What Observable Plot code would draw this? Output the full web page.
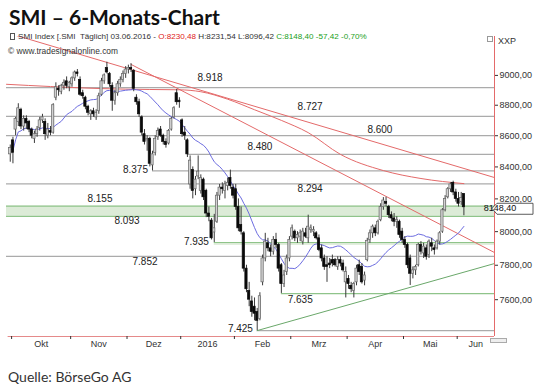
<!DOCTYPE html>
<html><head><meta charset="utf-8">
<script src="https://cdn.jsdelivr.net/npm/d3@7"></script>
<script src="https://cdn.jsdelivr.net/npm/@observablehq/plot@0.6"></script>
<style>
body{margin:0;background:#fff;}
#wrap{position:relative;width:540px;height:390px;overflow:hidden;font-family:"Liberation Sans",Arial,sans-serif;}
#wrap svg{position:absolute;left:0;top:0;}
.t{position:absolute;white-space:nowrap;line-height:1;}
</style></head><body>
<div id="wrap"></div>
<script>
// ---------------- data ----------------
const firstDay = -1; // trading-day number of the first candle (0 = 1 Oct 2015)
const open  = [8480,8570,8640,8690,8770,8660,8710,8690,8640,8580,8610,8650,8700,8690,8600,8630,8620,8850,8910,8890,8930,8960,8920,8940,8980,9020,8970,8880,8850,8790,8740,8760,8720,8760,8870,8960,9050,9010,8930,8830,8880,8940,8970,9010,9040,9050,9030,8850,8820,8720,8610,8570,8580,8410,8490,8590,8640,8600,8560,8550,8640,8720,8880,8830,8700,8620,8570,8290,8380,8260,8340,8250,8320,8250,8110,8067,7995,8060,8220,8270,8250,8280,8330,8270,8260,8150,8040,7990,7780,7650,7590,7560,7530,7490,7700,7840,7930,7900,7880,7950,7920,7800,7690,7760,7840,7970,8000,7960,7970,7940,7990,7960,8010,8000,7990,7960,7900,7840,7800,7810,7830,7830,7790,7830,7810,7700,7720,7680,7650,7700,7800,7790,7710,7830,7950,7990,8020,7990,8070,8150,8180,8150,8100,8080,8060,8060,8000,7950,7920,7840,7750,7770,7800,7920,7870,7900,7860,7930,7900,7900,7940,8000,8130,8210,8260,8300,8240,8200,8180,8230.48];
const high  = [8540,8590,8720,8810,8780,8730,8730,8700,8650,8630,8660,8720,8740,8710,8680,8660,8810,8950,8930,8940,8970,8990,8960,8990,9030,9040,8990,8900,8860,8800,8770,8780,8770,8880,8980,9010,9090,9020,8950,8900,8960,8990,9030,9060,9070,9080,9040,8870,8840,8730,8640,8600,8590,8500,8600,8650,8660,8610,8580,8640,8720,8790,8905,8850,8710,8660,8580,8470,8400,8340,8470,8350,8330,8260,8150,8080,8105,8240,8290,8300,8310,8330,8380,8290,8290,8200,8150,8000,7800,7700,7620,7610,7550,7640,7860,7990,7960,7920,7970,7990,7930,7810,7770,7860,7970,8040,8010,8000,8010,8020,8020,8100,8040,8030,8000,7980,7920,7860,7850,7840,7860,7840,7850,7850,7830,7790,7740,7700,7700,7800,7830,7810,7760,7960,8010,8040,8040,8070,8170,8208,8210,8160,8120,8110,8090,8070,8020,7970,7930,7860,7790,7800,7930,7940,7930,7920,7950,7960,7920,7950,8000,8140,8220,8270,8300,8310,8260,8240,8240,8231.54];
const low   = [8430,8420,8600,8660,8640,8630,8640,8620,8580,8550,8590,8630,8680,8570,8580,8600,8610,8830,8860,8870,8900,8910,8890,8920,8960,8990,8860,8840,8770,8730,8700,8720,8700,8740,8860,8940,9010,8920,8760,8800,8860,8920,8950,8980,9010,9020,8890,8800,8720,8600,8540,8500,8400,8375,8470,8570,8590,8540,8520,8540,8630,8710,8800,8780,8590,8570,8460,8260,8200,8220,8320,8230,8190,8085,8060,7950,7935,8050,8190,8230,8200,8250,8260,8200,8130,8000,7980,7760,7640,7560,7500,7480,7425,7480,7680,7820,7880,7850,7860,7900,7760,7636,7670,7740,7820,7950,7940,7930,7940,7920,7960,7930,7990,7970,7950,7880,7820,7770,7700,7780,7790,7790,7770,7790,7760,7610,7660,7640,7610,7680,7740,7690,7680,7820,7930,7960,7970,7980,8060,8130,8150,8080,8060,8030,8020,7960,7930,7900,7780,7682,7720,7740,7790,7860,7840,7830,7840,7880,7860,7890,7920,7990,8120,8200,8240,8220,8180,8150,8160,8096.42];
const close = [8520,8490,8710,8780,8660,8710,8680,8640,8600,8610,8640,8700,8720,8610,8640,8620,8800,8920,8900,8930,8950,8930,8950,8980,9020,9010,8870,8860,8790,8750,8760,8740,8750,8860,8960,9000,9020,8940,8830,8880,8940,8970,9010,9040,9050,9040,8910,8820,8740,8620,8560,8580,8420,8480,8580,8630,8600,8560,8540,8630,8710,8780,8820,8820,8610,8600,8480,8440,8250,8320,8370,8330,8210,8110,8090,7960,8020,8220,8270,8260,8290,8300,8280,8220,8150,8020,8000,7780,7660,7600,7530,7520,7480,7620,7840,7940,7900,7880,7950,7920,7780,7690,7740,7840,7950,8020,7960,7980,7990,8000,7970,8030,8020,8010,7960,7890,7840,7790,7790,7800,7810,7800,7830,7810,7770,7760,7690,7660,7690,7780,7760,7700,7740,7945,7990,8030,7990,8060,8150,8190,8170,8100,8080,8060,8070,7980,7950,7920,7800,7750,7770,7790,7920,7880,7910,7850,7940,7910,7890,7940,7990,8130,8200,8260,8290,8240,8200,8170,8205.82,8148.40];

// month axis: trading-day number of each month's first session, its session count, label
const monthStart  = [0, 22, 43, 63, 83, 104, 125, 146, 166];
const monthLength = [22, 21, 20, 20, 21, 21, 21, 20, 22];
const monthLabel  = ["Okt","Nov","Dez","2016","Feb","Mrz","Apr","Mai","Jun"];

// price axis ticks
const priceTicks = [7600, 7800, 8000, 8200, 8400, 8600, 8800, 9000];

// horizontal support / resistance levels: value, first trading day, kind
const levelValue = [8918, 8727, 8600, 8480, 8375, 8294, 8155, 8093, 7935, 7852, 7635, 7425];
const levelFrom  = [null, null, null, 65, 52, null, null, null, 75, null, 100, 91];
const levelKind  = ["gray","gray","gray","gray","gray","gray","green","green","green","gray","green","gray"];
const levelLabel = ["8.918","8.727","8.600","8.480","8.375","8.294","8.155","8.093","7.935","7.852","7.635","7.425"];

// shaded zones (value ranges)
const zoneLow  = [8093, 7918];
const zoneHigh = [8155, 7935];
const zoneFrom = [null, 75];

// straight trend lines: [day, value] pairs
const trendRedA  = [[-1.6, 9291], [179.4, 8333]];
const trendRedC  = [[44, 9075], [179.4, 7875]];
const trendGreen = [[91, 7425], [179.4, 7810]];

// 200-day average (red curve)
const ma200Day = [-2.4, 14, 33, 51, 62, 70, 80, 90, 100, 110, 122, 138, 152, 168];
const ma200Val = [8940, 8925, 8911, 8905, 8903, 8890, 8840, 8770, 8700, 8620, 8480, 8377, 8327, 8295];

// ---------------- build ----------------
const X0 = -2.4, X1 = 179.4, YMIN = 7392, YMAX = 9268;
const candles = close.map((c, i) => ({day: firstDay + i, open: open[i], high: high[i], low: low[i], close: c, up: c >= open[i]}));
const levels = levelValue.map((v, i) => ({v, from: levelFrom[i] ?? X0, kind: levelKind[i], label: levelLabel[i]}));
const zones = zoneLow.map((lo, i) => ({lo, hi: zoneHigh[i], from: zoneFrom[i] ?? X0}));
const seg = (pts, id) => pts.map(([d, v]) => ({day: d, v, id}));
const trends = [...seg(trendRedA, "A"), ...seg(trendRedC, "C")];
const ma200 = ma200Day.map((d, i) => ({day: d, v: ma200Val[i]}));
// month labels are centred on the visible part of each month
const mids = monthStart.map((s, i) => (s - 0.5 + Math.min(s + monthLength[i] - 0.5, X1)) / 2);
const midLabel = new Map(mids.map((m, i) => [m, monthLabel[i]]));

// label layout (day position, dy, anchor) per level
const labelLayout = {
  "8.918": [73.6, -9, "middle"], "8.727": [110.9, -8, "middle"], "8.600": [136.9, -5, "middle"],
  "8.480": [92.2, -7, "middle"], "8.375": [50.5, 0, "end"], "8.294": [110.9, 6, "middle"],
  "8.155": [32.6, -6, "middle"], "8.093": [42.7, 6, "middle"], "7.935": [73.2, 0, "end"],
  "7.852": [49.4, 6, "middle"], "7.635": [107.2, 7, "middle"], "7.425": [89.6, -1, "end"]
};
const labelRows = levels.map(l => ({...l, lx: labelLayout[l.label][0], dy: labelLayout[l.label][1], anchor: labelLayout[l.label][2]}));

const RED = "#e46a6a", AXISRED = "#e58a8a";
const plot = Plot.plot({
  width: 540, height: 360,
  marginLeft: 6, marginRight: 46, marginTop: 36, marginBottom: 24,
  x: {type: "linear", domain: [X0, X1]},
  y: {type: "log", domain: [YMIN, YMAX]},
  style: {fontFamily: "'Liberation Sans', Arial, sans-serif", fontSize: "9px", color: "#333", background: "transparent", overflow: "visible"},
  marks: [
    Plot.rect(zones, {x1: "from", x2: X1, y1: "lo", y2: "hi", fill: "#dcebd7"}),
    Plot.ruleY(levels, {y: "v", x1: "from", x2: X1, stroke: d => d.kind === "green" ? "#8fc48a" : "#ababab", strokeWidth: 1.2}),
    Plot.line(trends, {x: "day", y: "v", z: "id", stroke: RED, strokeWidth: 1, clip: true}),
    Plot.line(ma200, {x: "day", y: "v", stroke: RED, strokeWidth: 1, curve: "monotone-x", clip: true}),
    Plot.line(seg(trendGreen, "G"), {x: "day", y: "v", stroke: "#6aa86a", strokeWidth: 1}),
    Plot.lineY(candles, Plot.windowY({k: 20, anchor: "end", reduce: "mean"}, {x: "day", y: "close", stroke: "#6c6ce0", strokeWidth: 1})),
    Plot.ruleX(candles, {x: "day", y1: "low", y2: "high", stroke: "#3a3a3a", strokeWidth: 1}),
    Plot.rect(candles, {x1: d => d.day - 0.42, x2: d => d.day + 0.42, y1: "open", y2: "close",
      fill: d => d.up ? "#d2d2d2" : "#0a0a0a", stroke: d => d.up ? "#666" : "#0a0a0a", strokeWidth: 0.7}),
    Plot.ruleX([X1], {stroke: RED, strokeWidth: 1}),
    Plot.ruleY([YMIN], {x1: X0 + 0.6, x2: X1, stroke: AXISRED, strokeWidth: 1.2}),
    Plot.axisY({anchor: "right", ticks: priceTicks, tickSize: 3, tickPadding: 2, fontSize: 9,
      tickFormat: d => d.toFixed(2).replace(".", ",")}),
    Plot.axisX({anchor: "bottom", ticks: monthStart.map(d => d - 0.5), tickSize: 3, tickFormat: () => ""}),
    Plot.axisX({anchor: "bottom", ticks: mids, tickSize: 0, tickPadding: 4, fontSize: 9, tickFormat: d => midLabel.get(d)})
  ]
});

// level labels (with their own offsets)
const sx = plot.scale("x"), sy = plot.scale("y");
const svg = d3.select(plot);
labelRows.forEach(d => {
  svg.append("text").attr("x", sx.apply(d.lx)).attr("y", sy.apply(d.v) + d.dy)
    .attr("text-anchor", d.anchor).attr("dominant-baseline", "middle")
    .attr("font-size", 10).attr("fill", "#222").text(d.label);
});

// last price marker
const last = candles[candles.length - 1];
const py = sy.apply(last.close), px = sx.apply(X1);
svg.append("path").attr("d", `M${px - 2},${py + 1.5} L${px + 3},${py - 3.5} H${px + 39} V${py + 7.5} H${px + 3} Z`)
  .attr("fill", "#fff").attr("stroke", "#333").attr("stroke-width", 0.8);
svg.append("text").attr("x", px + 6).attr("y", py + 2.2).attr("dominant-baseline", "middle")
  .attr("font-size", 9).attr("fill", "#111").text(last.close.toFixed(2).replace(".", ","));

const wrap = document.getElementById("wrap");
wrap.appendChild(plot);

// header / footer text
const fmt = v => v.toFixed(2).replace(".", ",");
const prev = close[close.length - 2];
const chg = last.close - prev;
function addText(html, style) {
  const el = document.createElement("div");
  el.className = "t"; el.innerHTML = html; el.setAttribute("style", style);
  wrap.appendChild(el);
}
addText("SMI – 6-Monats-Chart", "left:9px;top:6px;font-family:Lato;font-weight:700;font-size:21px;color:#111;");
addText(`<span style="display:inline-block;width:3px;height:5px;border:1px solid #555;margin-right:3px;vertical-align:-1px"></span>SMI Index [.SMI&nbsp; Täglich] 03.06.2016 - <span style="color:#e02020">O:${fmt(last.open)}</span> H:${fmt(last.high)} L:${fmt(last.low)} <span style="color:#1aa01a">C:${fmt(last.close)} ${fmt(chg)} ${fmt(chg / prev * 100)}%</span>`,
  "left:10px;top:33px;font-size:8.1px;color:#333;");
addText("© www.tradesignalonline.com", "left:8px;top:47px;font-size:8.4px;color:#333;");
addText(`<span style="display:inline-block;width:4px;height:4px;border:1px solid #999;margin-right:5px;vertical-align:2px"></span>XXP`, "left:487px;top:36px;font-size:9px;color:#333;");
// small scroll widget at the bottom right
const w = document.createElement("div");
w.setAttribute("style", "position:absolute;left:490px;top:338px;width:15px;height:3px;border:1px solid #aaa;background:#eee;");
wrap.appendChild(w);
addText("Quelle: BörseGo AG", "left:8px;top:370px;font-family:Lato;font-size:14px;color:#333;");
</script>
</body></html>
